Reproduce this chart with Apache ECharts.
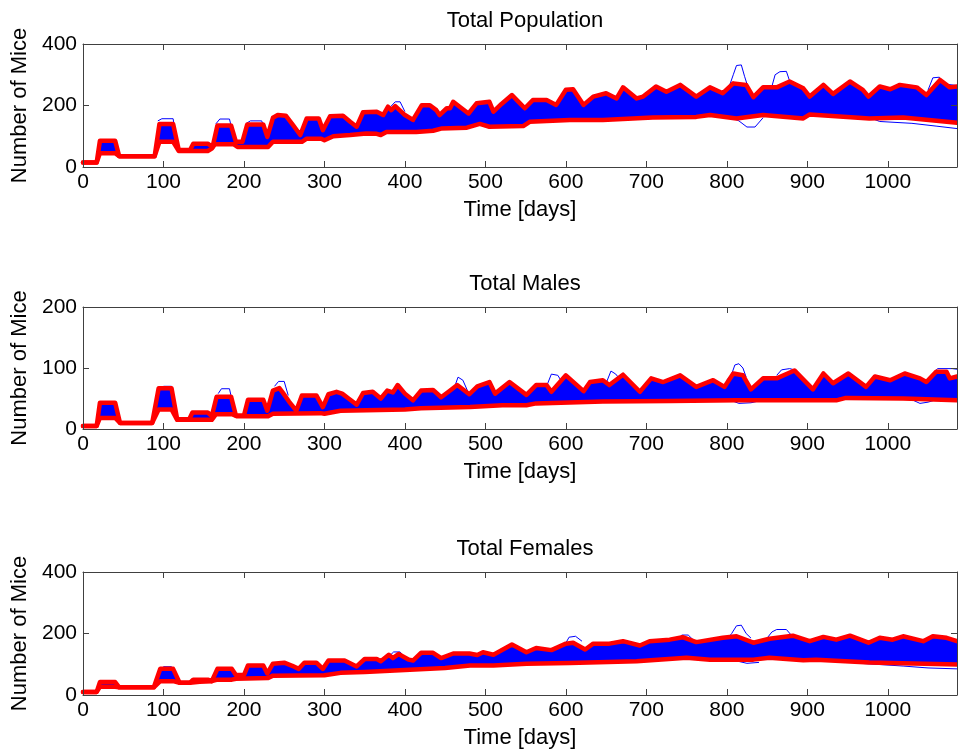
<!DOCTYPE html>
<html>
<head>
<meta charset="utf-8">
<script src="https://cdn.jsdelivr.net/npm/echarts@6/dist/echarts.min.js"></script>
<style>html,body{margin:0;padding:0;background:#fff}#c{width:958px;height:756px}</style>
</head>
<body>
<div id="c"></div>
<script>
// ---- data: [day, number of mice] ----
const panelTitles = ['Total Population', 'Total Males', 'Total Females'];
const xTicks = [0, 100, 200, 300, 400, 500, 600, 700, 800, 900, 1000];
const yMaxes = [400, 200, 400];
const yIntervals = [200, 100, 200];

const popUpper = [[0,15],[17,15],[21,85],[40,85],[45,35],[89,35],[95,140],[112,140],[119,55],[133,55],[137,76],[155,76],[161,65],[167,135],[184,135],[190,82],[198,82],[204,138],[224,138],[229,98],[236,160],[242,169],[252,167],[261,136],[270,104],[278,158],[293,158],[298,120],[307,165],[323,167],[332,147],[340,131],[348,178],[365,180],[373,169],[379,196],[383,185],[388,198],[400,169],[410,153],[421,201],[431,201],[439,185],[443,169],[452,191],[456,191],[460,212],[468,196],[479,174],[489,207],[505,212],[510,180],[520,205],[533,234],[540,215],[549,191],[559,218],[576,218],[588,202],[600,251],[609,253],[622,202],[634,229],[650,240],[663,223],[671,259],[688,223],[696,229],[712,262],[725,245],[742,267],[762,229],[779,259],[795,240],[808,272],[824,267],[833,227],[845,259],[862,259],[878,278],[895,256],[903,229],[920,267],[932,238],[953,278],[969,251],[976,229],[990,262],[1003,253],[1015,267],[1036,259],[1048,234],[1065,283],[1077,259],[1086,262]];
const popLower = [[0,15],[17,15],[21,45],[40,45],[45,35],[89,35],[95,82],[112,82],[119,52],[155,52],[160,60],[164,74],[187,74],[192,65],[230,65],[236,82],[272,82],[278,92],[296,92],[300,87],[311,100],[332,104],[352,109],[365,108],[370,104],[377,114],[414,114],[435,118],[445,125],[477,128],[493,140],[505,131],[547,133],[555,147],[605,153],[646,153],[708,161],[762,163],[779,169],[812,158],[845,169],[895,158],[903,171],[977,158],[1019,161],[1086,144]];
const popOutliers = [
  [[93,150],[98,157],[112,157],[117,70]],
  [[165,140],[170,156],[182,156],[188,90]],
  [[203,142],[208,150],[222,150],[228,110]],
  [[380,190],[388,212],[394,212],[400,180]],
  [[796,245],[803,262],[808,300],[812,330],[818,332],[822,295],[826,262]],
  [[850,255],[856,262],[860,300],[866,310],[874,311],[878,280],[884,270]],
  [[1050,250],[1056,290],[1064,292],[1070,270],[1086,265]],
  [[805,162],[815,150],[825,130],[835,130],[845,160]],
  [[960,165],[980,158],[990,148],[1030,142],[1060,133],[1086,125]]
];

const maleUpper = [[0,5],[17,5],[21,43],[40,43],[46,10],[86,10],[94,67],[110,67],[117,16],[132,16],[136,27],[155,27],[160,21],[166,53],[184,53],[190,22],[200,22],[205,48],[224,48],[229,30],[236,63],[244,67],[248,60],[256,45],[265,30],[272,55],[290,55],[298,36],[305,57],[315,61],[322,58],[330,50],[340,40],[348,59],[360,61],[370,50],[378,63],[385,60],[391,72],[400,58],[410,47],[420,63],[435,64],[445,52],[455,62],[465,72],[480,57],[490,70],[505,77],[512,58],[530,77],[551,56],[563,72],[576,72],[582,61],[600,88],[622,62],[630,77],[646,80],[654,72],[671,89],[692,61],[706,83],[721,77],[742,88],[762,69],[783,80],[797,69],[808,91],[820,88],[830,65],[845,83],[862,83],[884,96],[907,65],[920,91],[932,75],[951,91],[973,69],[984,86],[1003,80],[1021,91],[1040,83],[1048,77],[1060,94],[1073,94],[1077,83],[1086,86]];
const maleLower = [[0,5],[17,5],[21,18],[40,18],[46,10],[86,10],[94,32],[110,32],[117,15],[160,15],[165,24],[186,24],[191,21],[230,21],[236,25],[295,26],[300,25],[320,30],[400,32],[420,34],[481,36],[521,39],[551,39],[563,42],[646,45],[730,46],[812,47],[936,47],[948,51],[1019,50],[1086,47]];
const maleOutliers = [
  [[96,60],[100,70],[110,70],[115,30]],
  [[168,58],[172,66],[182,66],[188,30]],
  [[238,70],[243,78],[250,78],[255,55]],
  [[462,70],[466,85],[472,80],[478,62]],
  [[576,70],[582,90],[590,88],[596,75]],
  [[650,75],[656,95],[662,90],[668,80]],
  [[800,80],[806,90],[810,105],[815,107],[820,100],[824,85]],
  [[862,88],[868,97],[878,99],[884,97]],
  [[1055,90],[1062,99],[1080,99],[1086,98]],
  [[805,47],[815,42],[830,43],[840,46]],
  [[1030,48],[1040,42],[1050,44],[1060,48]]
];

const femUpper = [[0,10],[17,10],[21,42],[40,42],[45,25],[88,25],[96,85],[112,85],[120,40],[133,40],[137,50],[155,50],[160,45],[167,85],[185,85],[190,65],[200,65],[205,96],[224,96],[229,70],[236,102],[250,105],[260,95],[268,85],[275,105],[290,105],[298,85],[305,112],[325,112],[340,93],[350,117],[365,117],[370,110],[380,131],[385,120],[392,133],[405,115],[410,112],[420,137],[435,137],[445,120],[460,135],[480,135],[490,130],[497,139],[510,131],[533,164],[551,139],[563,153],[582,146],[600,167],[609,170],[624,148],[634,167],[654,167],[671,175],[692,161],[704,175],[729,180],[745,188],[762,172],[795,186],[812,191],[833,170],[853,183],[882,193],[903,175],[920,189],[936,180],[953,193],[976,170],[990,186],[1006,180],[1019,191],[1044,175],[1056,191],[1073,186],[1086,175]];
const femLower = [[0,10],[17,10],[21,27],[40,27],[45,25],[88,25],[96,45],[112,45],[120,40],[133,40],[145,43],[160,45],[167,50],[185,50],[190,53],[230,55],[236,63],[300,64],[320,72],[350,75],[400,81],[450,88],[481,96],[510,96],[551,102],[605,104],[688,110],[750,121],[779,115],[833,115],[853,121],[895,113],[911,115],[977,106],[1086,99]];
const femOutliers = [
  [[96,80],[100,92],[110,92],[116,50]],
  [[380,125],[386,140],[394,140],[400,122]],
  [[598,160],[604,188],[612,191],[620,175]],
  [[738,175],[744,195],[752,195],[758,180]],
  [[800,180],[806,200],[812,225],[818,227],[824,200],[830,185]],
  [[850,185],[856,205],[862,213],[874,213],[880,195]],
  [[810,112],[825,103],[840,106]],
  [[960,104],[990,99],[1020,94],[1050,88],[1086,85]]
];

const uppers = [popUpper, maleUpper, femUpper];
const lowers = [popLower, maleLower, femLower];
const outliers = [popOutliers, maleOutliers, femOutliers];

// ---- layout ----
const FONT = '"Liberation Sans", Arial, Helvetica, sans-serif';
const gridTops = [44, 307, 572];
const gridH = [123, 122, 123];
const LEFT = 83, WIDTH = 874;
const AX = '#404040';

const grids = [], xAxes = [], yAxes = [], series = [], titles = [];
for (let i = 0; i < 3; i++) {
  grids.push({left: LEFT, top: gridTops[i], width: WIDTH, height: gridH[i], containLabel: false});
  titles.push({text: panelTitles[i], left: LEFT + WIDTH / 2, top: gridTops[i] - 39, textAlign: 'center',
    textStyle: {fontFamily: FONT, fontSize: 22, fontWeight: 'normal', color: '#000'}});
  const common = {type: 'value', gridIndex: i, min: 0, max: 1086, interval: 100, z: 10,
    splitLine: {show: false},
    axisLine: {show: true, onZero: false, lineStyle: {color: AX, width: 1}},
    axisTick: {show: true, inside: true, length: 6, lineStyle: {color: AX}}};
  xAxes.push(Object.assign({}, common, {position: 'bottom',
    axisLabel: {show: true, fontFamily: FONT, fontSize: 21, color: '#000', margin: 5, showMaxLabel: false,
      formatter: v => xTicks.indexOf(v) >= 0 ? String(v) : ''},
    name: 'Time [days]', nameLocation: 'middle', nameGap: 32,
    nameTextStyle: {fontFamily: FONT, fontSize: 22, color: '#000'}}));
  xAxes.push(Object.assign({}, common, {position: 'top', axisLabel: {show: false}}));
  const ycommon = {type: 'value', gridIndex: i, min: 0, max: yMaxes[i], interval: yIntervals[i], z: 10,
    splitLine: {show: false},
    axisLine: {show: true, onZero: false, lineStyle: {color: AX, width: 1}},
    axisTick: {show: true, inside: true, length: 6, lineStyle: {color: AX}}};
  yAxes.push(Object.assign({}, ycommon, {position: 'left',
    axisLabel: {show: true, fontFamily: FONT, fontSize: 21, color: '#000', margin: 6},
    name: 'Number of Mice', nameLocation: 'middle', nameGap: 50,
    nameTextStyle: {fontFamily: FONT, fontSize: 22, color: '#000'}}));
  yAxes.push(Object.assign({}, ycommon, {position: 'right', axisLabel: {show: false}}));

  const xi = i * 2, yi = i * 2;
  // blue band: fill under upper, then white under lower
  series.push({type: 'line', xAxisIndex: xi, yAxisIndex: yi, data: uppers[i], symbol: 'none', silent: true,
    lineStyle: {width: 1, color: '#0000ff'}, areaStyle: {color: '#0000ff', opacity: 1}, z: 2});
  series.push({type: 'line', xAxisIndex: xi, yAxisIndex: yi, data: lowers[i], symbol: 'none', silent: true,
    lineStyle: {width: 1, color: '#0000ff'}, areaStyle: {color: '#ffffff', opacity: 1}, z: 3});
  outliers[i].forEach(tr => series.push({type: 'line', xAxisIndex: xi, yAxisIndex: yi, data: tr,
    symbol: 'none', silent: true, lineStyle: {width: 1, color: '#0000ff'}, z: 4}));
  series.push({type: 'line', xAxisIndex: xi, yAxisIndex: yi, data: uppers[i], symbol: 'none', silent: true,
    lineStyle: {width: 4.5, color: '#ff0000', join: 'round', cap: 'round'}, z: 5});
  series.push({type: 'line', xAxisIndex: xi, yAxisIndex: yi, data: lowers[i], symbol: 'none', silent: true,
    lineStyle: {width: 4.5, color: '#ff0000', join: 'round', cap: 'round'}, z: 5});
}

const chart = echarts.init(document.getElementById('c'), null, {renderer: 'canvas'});
chart.setOption({
  animation: false,
  backgroundColor: '#ffffff',
  title: titles,
  grid: grids,
  xAxis: xAxes,
  yAxis: yAxes,
  series: series
});
</script>
</body>
</html>
